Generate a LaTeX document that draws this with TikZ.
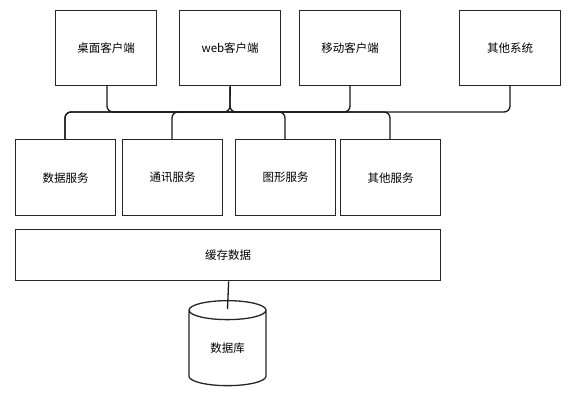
\documentclass[tikz,border=0pt]{standalone}
\usepackage{fontspec}
\setmainfont{Noto Sans CJK SC}
\usetikzlibrary{shapes.geometric}
\begin{document}
\begin{tikzpicture}[x=1pt,y=-1pt,
  box/.style={draw=black!85,line width=1.3pt,fill=white,inner sep=0pt,anchor=north west,font=\fontsize{11.5}{14}\selectfont},
  link/.style={draw=black!90,line width=1.3pt,rounded corners=6pt}]
\useasboundingbox (0,0) rectangle (586,405);
\fill[white] (0,0) rectangle (586,405);
% top boxes
\node[box,minimum width=101pt,minimum height=75pt] (desk) at (55,10) {桌面客户端};
\node[box,minimum width=101pt,minimum height=75pt] (web) at (179,10) {web客户端};
\node[box,minimum width=101pt,minimum height=75pt] (mob) at (299,10) {移动客户端};
\node[box,minimum width=101pt,minimum height=75pt] (oth) at (459,10) {其他系统};
% services
\node[box,minimum width=100pt,minimum height=76pt] (data) at (15,139) {数据服务};
\node[box,minimum width=100pt,minimum height=76pt] (comm) at (122,139) {通讯服务};
\node[box,minimum width=100pt,minimum height=76pt] (graph) at (235,139) {图形服务};
\node[box,minimum width=100pt,minimum height=76pt] (osvc) at (340,139) {其他服务};
% cache
\node[box,minimum width=425pt,minimum height=51pt] (cache) at (15,229) {缓存数据};
% database
\node[cylinder,shape border rotate=90,draw=black!85,line width=1.3pt,fill=white,
  minimum width=77pt,minimum height=85pt,aspect=0.55,inner sep=0pt,anchor=north,
  font=\fontsize{11.5}{14}\selectfont] (db) at (227.5,300) {数据库};
\coordinate (dbtop) at (227.5,309);
% connectors
\draw[link] (web.south) -- (230,112) -- (65,112) -- (65,139);
\draw[link] (web.south) -- (230,112) -- (390,112) -- (390,139);
\draw[link] (107,85) -- (107,112) -- (285,112) -- (285,139);
\draw[link] (350,85) -- (350,112) -- (172,112) -- (172,139);
\draw[link] (510,85) -- (510,112) -- (65,112) -- (65,139);
\draw[draw=black!90,line width=1.3pt] (cache.south) ++(0.5,0) -- (dbtop);
\end{tikzpicture}
\end{document}
